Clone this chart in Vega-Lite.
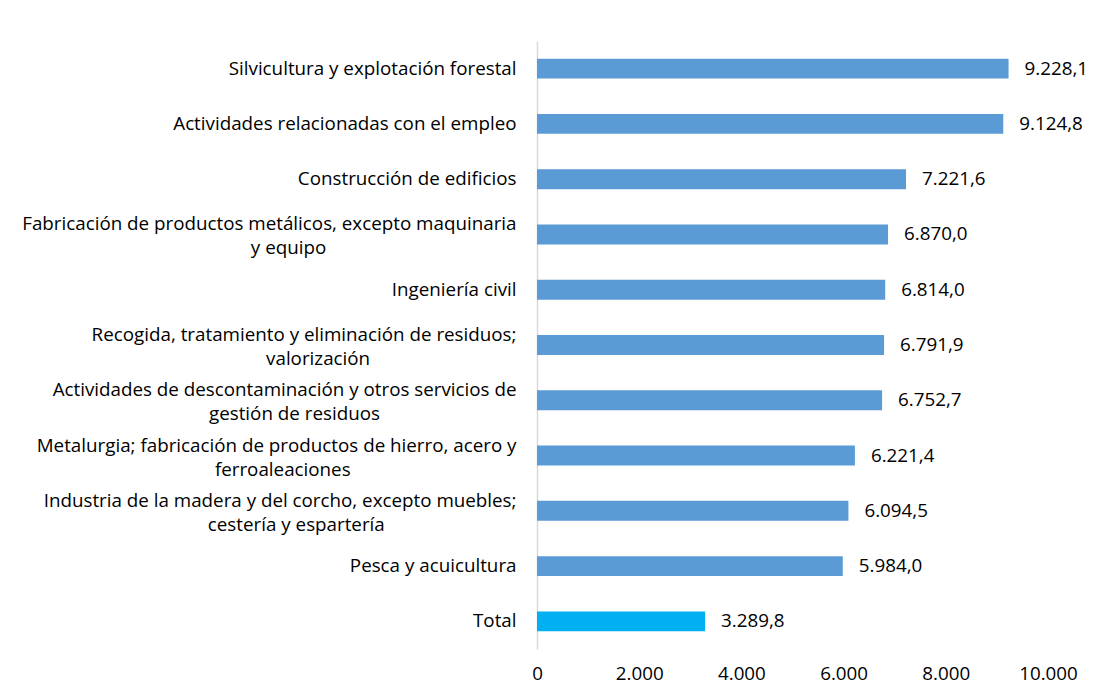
{
  "$schema": "https://vega.github.io/schema/vega-lite/v6.json",
  "autosize": {"type": "none"},
  "width": 511,
  "height": 608,
  "padding": {"left": 537, "top": 41, "right": 45, "bottom": 47},
  "background": "white",
  "config": {
    "view": {"stroke": null},
    "locale": {"number": {"decimal": ",", "thousands": ".", "grouping": [3], "currency": ["", " €"]}},
    "font": "Open Sans"
  },
  "data": {
    "values": [
      {"sector": "Silvicultura y explotación forestal", "valor": 9228.1, "grupo": "Sector"},
      {"sector": "Actividades relacionadas con el empleo", "valor": 9124.8, "grupo": "Sector"},
      {"sector": "Construcción de edificios", "valor": 7221.6, "grupo": "Sector"},
      {"sector": "Fabricación de productos metálicos, excepto maquinaria\ny equipo", "valor": 6870.0, "grupo": "Sector"},
      {"sector": "Ingeniería civil", "valor": 6814.0, "grupo": "Sector"},
      {"sector": "Recogida, tratamiento y eliminación de residuos;\nvalorización", "valor": 6791.9, "grupo": "Sector"},
      {"sector": "Actividades de descontaminación y otros servicios de\ngestión de residuos", "valor": 6752.7, "grupo": "Sector"},
      {"sector": "Metalurgia; fabricación de productos de hierro, acero y\nferroaleaciones", "valor": 6221.4, "grupo": "Sector"},
      {"sector": "Industria de la madera y del corcho, excepto muebles;\ncestería y espartería", "valor": 6094.5, "grupo": "Sector"},
      {"sector": "Pesca y acuicultura", "valor": 5984.0, "grupo": "Sector"},
      {"sector": "Total", "valor": 3289.8, "grupo": "Total"}
    ]
  },
  "encoding": {
    "y": {
      "field": "sector",
      "type": "nominal",
      "sort": null,
      "scale": {"paddingInner": 0.64, "paddingOuter": 0.32},
      "axis": {
        "title": null,
        "domain": true,
        "domainColor": "#D9D9D9",
        "domainWidth": 1.5,
        "ticks": false,
        "labelPadding": 21,
        "labelLimit": 600,
        "labelFontSize": 18.8,
        "labelColor": "#000000",
        "labelLineHeight": 24,
        "labelOffset": {"expr": "indexof(datum.value, '\\n') >= 0 ? -10 : 0"},
        "labelExpr": "indexof(datum.value, '\\n') < 0 ? datum.value : [split(datum.value, '\\n')[0], pad(split(datum.value, '\\n')[1], length(split(datum.value, '\\n')[1]) + floor(0.85 * (length(split(datum.value, '\\n')[0]) - length(split(datum.value, '\\n')[1]))), '\u00a0') + '\u200b']"
      }
    },
    "x": {
      "field": "valor",
      "type": "quantitative",
      "scale": {"domain": [0, 10000], "nice": false},
      "axis": {
        "title": null,
        "domain": false,
        "ticks": false,
        "grid": false,
        "values": [0, 2000, 4000, 6000, 8000, 10000],
        "format": ",.0f",
        "labelFontSize": 18.8,
        "labelColor": "#000000",
        "labelPadding": 15,
        "labelFlush": false
      }
    }
  },
  "layer": [
    {
      "mark": {"type": "bar"},
      "encoding": {
        "color": {
          "field": "grupo",
          "type": "nominal",
          "scale": {"domain": ["Sector", "Total"], "range": ["#5B9BD5", "#00B0F0"]},
          "legend": null
        }
      }
    },
    {
      "mark": {"type": "text", "align": "left", "baseline": "middle", "dx": 16, "fontSize": 18.8, "color": "#000000"},
      "encoding": {
        "text": {"field": "valor", "type": "quantitative", "format": ",.1f"}
      }
    }
  ]
}
